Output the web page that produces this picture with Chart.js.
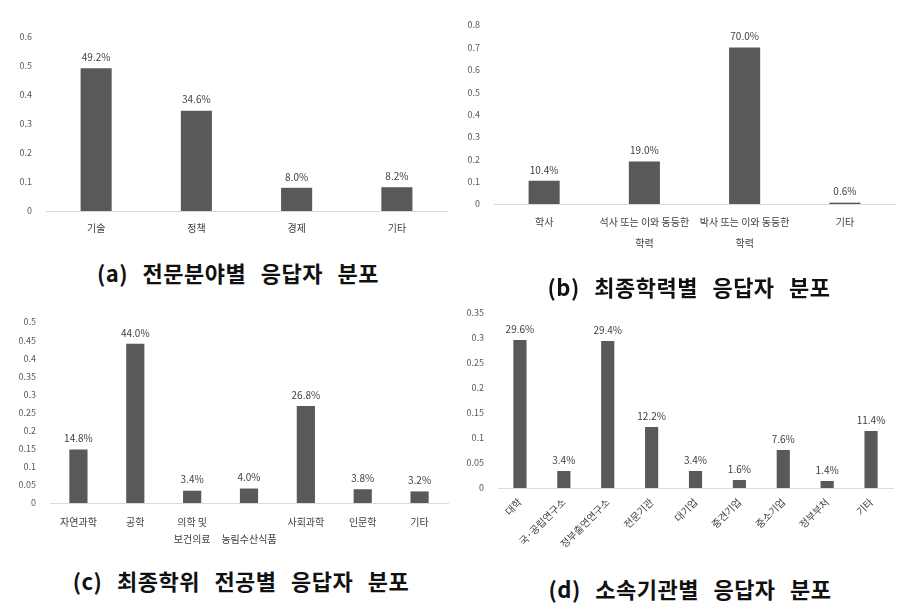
<!DOCTYPE html>
<html>
<head>
<meta charset="utf-8">
<script src="https://cdn.jsdelivr.net/npm/chart.js@4.4.1/dist/chart.umd.min.js"></script>
<style>
  body { margin: 0; background: #fff; }
  #wrap { position: relative; width: 911px; height: 615px; overflow: hidden; }
  canvas { position: absolute; }
  .cap {
    position: absolute; width: 440px; text-align: center;
    font-family: "Noto Sans CJK KR", sans-serif; font-size: 22px; font-weight: bold;
    color: #111; word-spacing: 9px; letter-spacing: 0.5px; line-height: 24px;
  }
</style>
</head>
<body>
<div id="wrap">
  <canvas id="chartA" width="455" height="250" style="left:0;top:0"></canvas>
  <canvas id="chartB" width="456" height="250" style="left:455px;top:0"></canvas>
  <canvas id="chartC" width="455" height="260" style="left:0;top:300px"></canvas>
  <canvas id="chartD" width="456" height="260" style="left:455px;top:300px"></canvas>
  <div class="cap" style="left:18px;top:260px">(a) 전문분야별 응답자 분포</div>
  <div class="cap" style="left:469px;top:274px">(b) 최종학력별 응답자 분포</div>
  <div class="cap" style="left:21px;top:568px">(c) 최종학위 전공별 응답자 분포</div>
  <div class="cap" style="left:470px;top:576px">(d) 소속기관별 응답자 분포</div>
</div>
<script>
// (a) 전문분야
var fieldLabels = ['기술', '정책', '경제', '기타'];
var fieldValues = [0.492, 0.346, 0.080, 0.082];
// (b) 최종학력
var eduLabels = ['학사', ['석사 또는 이와 동등한', '학력'], ['박사 또는 이와 동등한', '학력'], '기타'];
var eduValues = [0.104, 0.190, 0.700, 0.006];
// (c) 최종학위 전공
var majorLabels = ['자연과학', '공학', ['의학 및', '보건의료'], ['', '농림수산식품'], '사회과학', '인문학', '기타'];
var majorValues = [0.148, 0.440, 0.034, 0.040, 0.268, 0.038, 0.032];
// (d) 소속기관
var orgLabels = ['대학', '국·공립연구소', '정부출연연구소', '전문기관', '대기업', '중견기업', '중소기업', '정부부처', '기타'];
var orgValues = [0.296, 0.034, 0.294, 0.122, 0.034, 0.016, 0.076, 0.014, 0.114];
// y axis ranges
var yMax = [0.6, 0.8, 0.5, 0.35];
var yStep = [0.1, 0.1, 0.05, 0.05];

var FONT = '"Noto Sans CJK KR", sans-serif';
var BAR = '#595959';

// value labels above bars
var valueLabels = {
  id: 'valueLabels',
  afterDatasetsDraw: function(chart) {
    var ctx = chart.ctx;
    var ds = chart.data.datasets[0];
    ctx.save();
    ctx.font = '10px ' + FONT;
    ctx.fillStyle = '#404040';
    ctx.textAlign = 'center';
    ctx.textBaseline = 'middle';
    chart.getDatasetMeta(0).data.forEach(function(bar, i) {
      ctx.fillText((ds.data[i] * 100).toFixed(1) + '%', bar.x, bar.y - 11);
    });
    ctx.restore();
  }
};

function makeChart(id, labels, values, idx, area, xOpts) {
  var canvas = document.getElementById(id);
  var W = canvas.width, H = canvas.height;
  return new Chart(canvas, {
    type: 'bar',
    data: {
      labels: labels,
      datasets: [{
        data: values,
        backgroundColor: BAR,
        categoryPercentage: 1,
        barPercentage: xOpts.bar
      }]
    },
    plugins: [valueLabels],
    options: {
      responsive: false,
      animation: false,
      layout: { padding: { left: 0, top: area.t, right: W - area.r, bottom: 0 } },
      plugins: { legend: { display: false }, tooltip: { enabled: false } },
      scales: {
        x: {
          grid: { display: true, drawOnChartArea: false, drawTicks: false },
          border: { color: '#d9d9d9', width: 1 },
          ticks: {
            autoSkip: false,
            minRotation: xOpts.rot, maxRotation: xOpts.rot,
            padding: xOpts.pad,
            color: '#404040',
            font: { family: FONT, size: 10, lineHeight: xOpts.lh }
          },
          afterFit: function(s) { s.height = H - area.b; }
        },
        y: {
          min: 0, max: yMax[idx],
          grid: { display: false },
          border: { display: false },
          ticks: {
            stepSize: yStep[idx],
            padding: 6,
            color: '#595959',
            font: { family: FONT, size: 9 },
            callback: function(v) { return String(Math.round(v * 100) / 100); }
          },
          afterFit: function(s) { s.width = area.l; }
        }
      }
    }
  });
}

makeChart('chartA', fieldLabels, fieldValues, 0, { l: 46, r: 447, t: 37, b: 211 }, { rot: 0, pad: 10, lh: 1.4, bar: 0.31 });
makeChart('chartB', eduLabels, eduValues, 1, { l: 39, r: 440, t: 25, b: 204 }, { rot: 0, pad: 8, lh: 2.1, bar: 0.31 });
makeChart('chartC', majorLabels, majorValues, 2, { l: 50, r: 448, t: 22, b: 203 }, { rot: 0, pad: 11, lh: 1.7, bar: 0.32 });
makeChart('chartD', orgLabels, orgValues, 3, { l: 43, r: 438, t: 13, b: 188 }, { rot: 45, pad: 8, lh: 1.2, bar: 0.30 });
</script>
</body>
</html>
